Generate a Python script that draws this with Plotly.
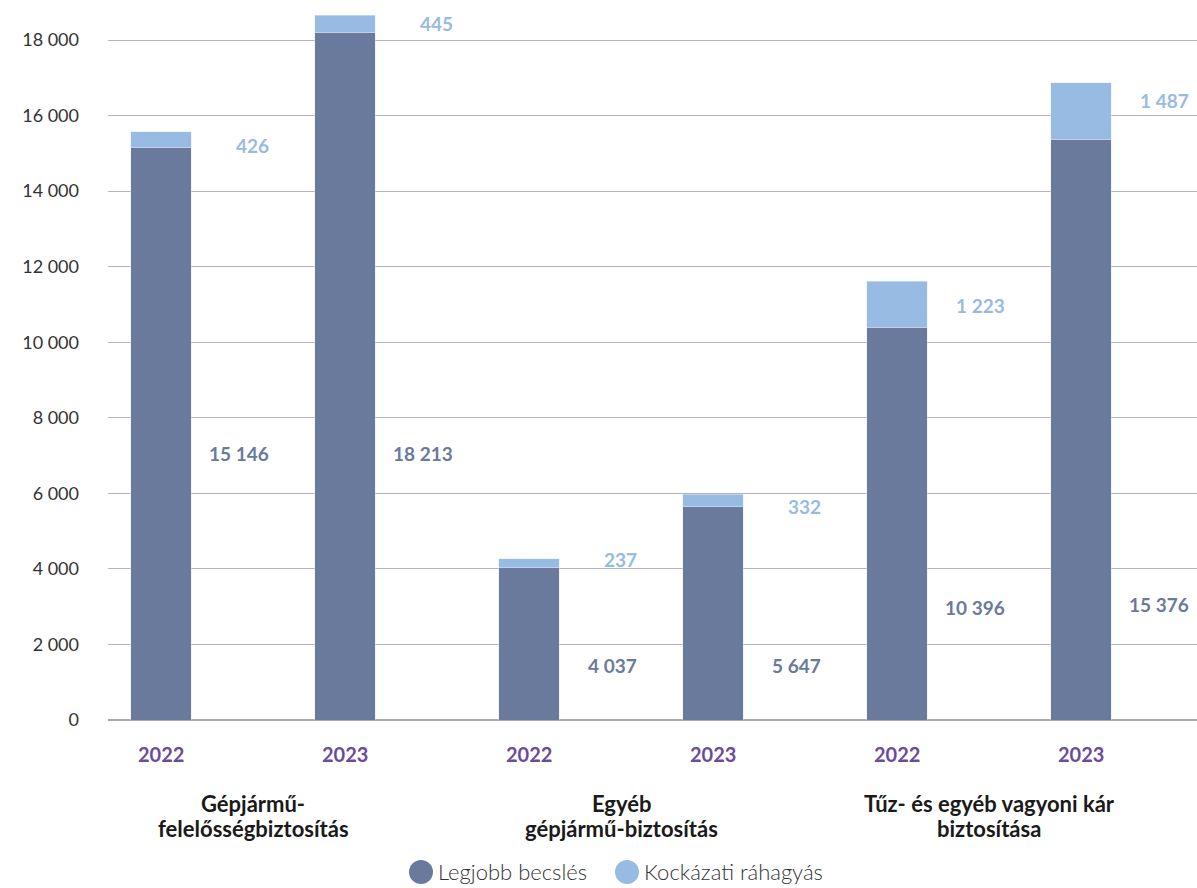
import plotly.graph_objects as go

# ---- data ----
groups = ["Gépjármű-<br>felelősségbiztosítás", "Egyéb<br>gépjármű-biztosítás", "Tűz- és egyéb vagyoni kár<br>biztosítása"]
years = ["2022", "2023", "2022", "2023", "2022", "2023"]
best_estimate = [15146, 18213, 4037, 5647, 10396, 15376]
risk_margin = [426, 445, 237, 332, 1223, 1487]
series_names = ["Legjobb becslés", "Kockázati ráhagyás"]

# ---- layout helpers (label placement, not data) ----
dark_label_y = [7067, 7067, 1430, 1430, 2990, 3070]
light_label_y = [15220, 18450, 4260, 5660, 10985, 16410]

DARK = "#6a7a9c"
LIGHT = "#97bbe3"
PURPLE = "#6b4c9c"
FONT = "Lato"

x = list(range(len(years)))
fig = go.Figure()
fig.add_trace(go.Bar(x=x, y=best_estimate, name=series_names[0], marker_color=DARK,
                     width=0.33, showlegend=False))
fig.add_trace(go.Bar(x=x, y=risk_margin, name=series_names[1], marker_color=LIGHT,
                     width=0.33, showlegend=False))

ann = []
for i in x:
    ann.append(dict(x=i + 0.6, y=dark_label_y[i], xref="x", yref="y", text=f"{best_estimate[i]:,}".replace(",", " "),
                    showarrow=False, xanchor="right", yanchor="middle",
                    font=dict(family=FONT, size=19, color=DARK, weight="bold")))
    ann.append(dict(x=i + 0.6, y=light_label_y[i], xref="x", yref="y", text=f"{risk_margin[i]:,}".replace(",", " "),
                    showarrow=False, xanchor="right", yanchor="middle",
                    font=dict(family=FONT, size=19, color=LIGHT, weight="bold")))
    ann.append(dict(x=i, y=-34 / 720, xref="x", yref="paper", text=years[i], showarrow=False,
                    xanchor="center", yanchor="middle",
                    font=dict(family=FONT, size=20, color=PURPLE, weight="bold")))
for g, name in enumerate(groups):
    lines = name.split("<br>")
    for k, line in enumerate(lines):
        ann.append(dict(x=2 * g + 0.5, y=-(83 + 26 * k) / 720, xref="x", yref="paper", text=line,
                        showarrow=False, xanchor="center", yanchor="middle",
                        font=dict(family=FONT, size=22, color="#1a1a1a", weight="bold")))

# manual legend
shapes = []
leg_items = [(421, DARK, series_names[0]), (627, LIGHT, series_names[1])]
W, H = 1089, 720
for cx, col, name in leg_items:
    px = cx - 108
    py = 872
    shapes.append(dict(type="circle", xref="paper", yref="paper",
                       x0=(px - 12) / W, x1=(px + 12) / W,
                       y0=(720 - py - 12) / H, y1=(720 - py + 12) / H,
                       fillcolor=col, line=dict(width=0)))
    ann.append(dict(x=(px + 15) / W, y=(720 - py) / H, xref="paper", yref="paper", text=name,
                    showarrow=False, xanchor="left", yanchor="middle",
                    font=dict(family=FONT, size=22, color="#333333", weight=300)))

fig.update_layout(
    barmode="stack",
    width=1197, height=888,
    margin=dict(l=108, r=0, t=0, b=168),
    plot_bgcolor="white", paper_bgcolor="white",
    separators=", ",
    annotations=ann, shapes=shapes,
    xaxis=dict(range=[-0.288, 5.63], showticklabels=False, showgrid=False, zeroline=False,
               showline=False, fixedrange=True),
    yaxis=dict(range=[0, 19060], tickvals=list(range(0, 18001, 2000)), tickformat=",d",
               showgrid=True, gridcolor="#b5b5b5", gridwidth=1.3, zeroline=True,
               zerolinecolor="#a8a8a8", zerolinewidth=2,
               ticklabelstandoff=28, ticks="",
               tickfont=dict(family=FONT, size=18, color="#333333")),
)

fig.write_html("out.html")
